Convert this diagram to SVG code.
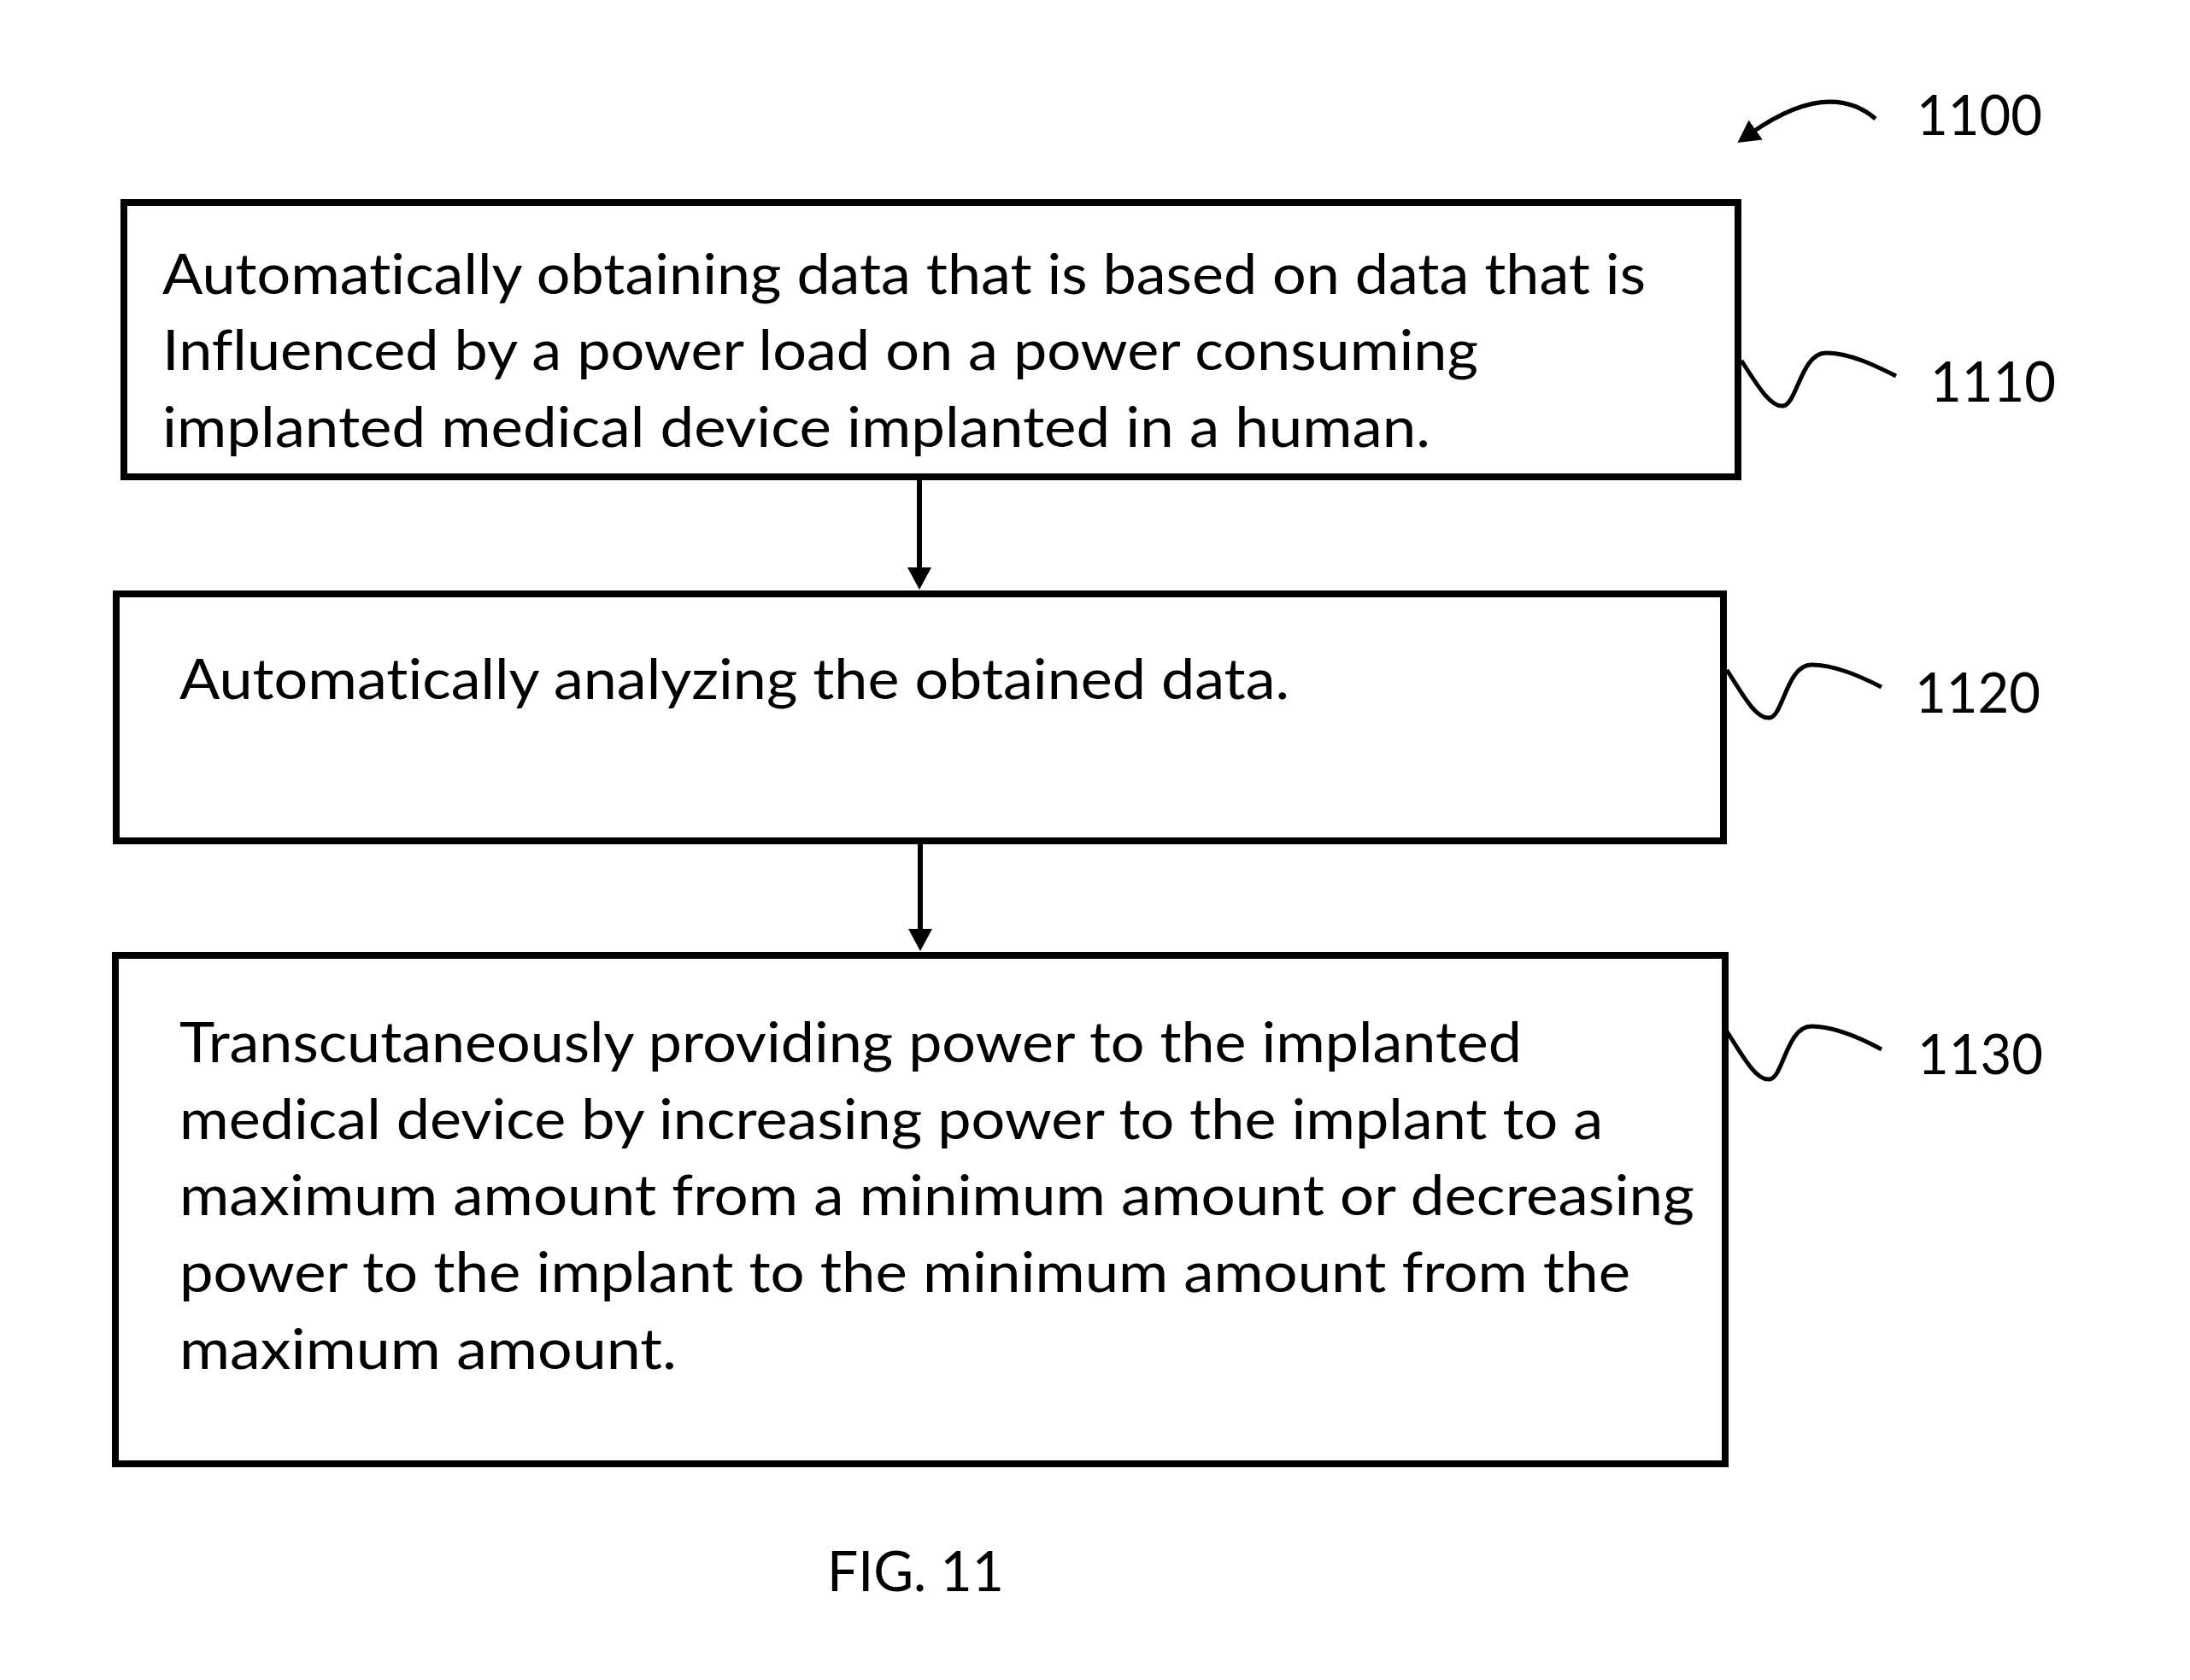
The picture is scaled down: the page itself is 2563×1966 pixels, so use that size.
<svg xmlns="http://www.w3.org/2000/svg" width="2563" height="1966" viewBox="0 0 2563 1966">
<style>
.box{fill:none;stroke:#000;stroke-width:8}
.t{font-family:Lato,"Open Sans","Liberation Sans",sans-serif;font-size:66px;fill:#000;font-variant-ligatures:none;font-feature-settings:"liga" 0,"clig" 0}
.conn{fill:none;stroke:#000;stroke-width:6}
.lead{fill:none;stroke:#000;stroke-width:5;stroke-linecap:butt}
</style>
<defs>
<marker id="ah" markerUnits="userSpaceOnUse" markerWidth="26" markerHeight="28" viewBox="0 0 26 28" refX="7" refY="14" orient="auto">
<path d="M0,0 L26,14 L0,28 z" fill="#000"/>
</marker>
</defs>
<rect width="2563" height="1966" fill="#fff"/>
<g id="ref1100">
<path class="lead" d="M2195,139 Q2140,92 2049,156" marker-end="url(#ah)"/>
<text class="t" x="2243" y="158" textLength="147" lengthAdjust="spacingAndGlyphs">1100</text>
</g>
<g id="node1110">
<rect class="box" x="145" y="237" width="1889" height="321"/>
<text class="t" x="190" y="344" textLength="1736" lengthAdjust="spacingAndGlyphs">Automatically obtaining data that is based on data that is</text>
<text class="t" x="190" y="433" textLength="1540" lengthAdjust="spacingAndGlyphs">Influenced by a power load on a power consuming</text>
<text class="t" x="190" y="523" textLength="1484" lengthAdjust="spacingAndGlyphs">implanted medical device implanted in a human.</text>
<path class="lead" d="M2038,422 C2056,450 2072,477 2087,475 C2103,473 2108,413 2137,413 C2165,413 2195,428 2219,440"/>
<text class="t" x="2259" y="470" textLength="147" lengthAdjust="spacingAndGlyphs">1110</text>
</g>
<g id="node1120">
<rect class="box" x="136" y="695" width="1881" height="289"/>
<text class="t" x="210" y="818" textLength="1299" lengthAdjust="spacingAndGlyphs">Automatically analyzing the obtained data.</text>
<path class="lead" d="M2021,784 C2039,812 2055,842 2071,840 C2087,838 2091,778 2120,778 C2148,778 2178,792 2202,804"/>
<text class="t" x="2241" y="834" textLength="147" lengthAdjust="spacingAndGlyphs">1120</text>
</g>
<g id="node1130">
<rect class="box" x="135" y="1118" width="1884" height="595"/>
<text class="t" x="210" y="1243" textLength="1571" lengthAdjust="spacingAndGlyphs">Transcutaneously providing power to the implanted</text>
<text class="t" x="210" y="1333" textLength="1666" lengthAdjust="spacingAndGlyphs">medical device by increasing power to the implant to a</text>
<text class="t" x="210" y="1422" textLength="1773" lengthAdjust="spacingAndGlyphs">maximum amount from a minimum amount or decreasing</text>
<text class="t" x="210" y="1512" textLength="1698" lengthAdjust="spacingAndGlyphs">power to the implant to the minimum amount from the</text>
<text class="t" x="210" y="1602" textLength="582" lengthAdjust="spacingAndGlyphs">maximum amount.</text>
<path class="lead" d="M2021,1207 C2039,1235 2055,1265 2071,1263 C2087,1261 2091,1201 2120,1201 C2148,1201 2178,1215 2202,1228"/>
<text class="t" x="2244" y="1257" textLength="147" lengthAdjust="spacingAndGlyphs">1130</text>
</g>
<g id="connectors">
<line class="conn" x1="1076" y1="562" x2="1076" y2="671" marker-end="url(#ah)"/>
<line class="conn" x1="1077" y1="988" x2="1077" y2="1094" marker-end="url(#ah)"/>
</g>
<g id="caption">
<text class="t" x="968" y="1862" textLength="207" lengthAdjust="spacingAndGlyphs">FIG. 11</text>
</g>
</svg>
